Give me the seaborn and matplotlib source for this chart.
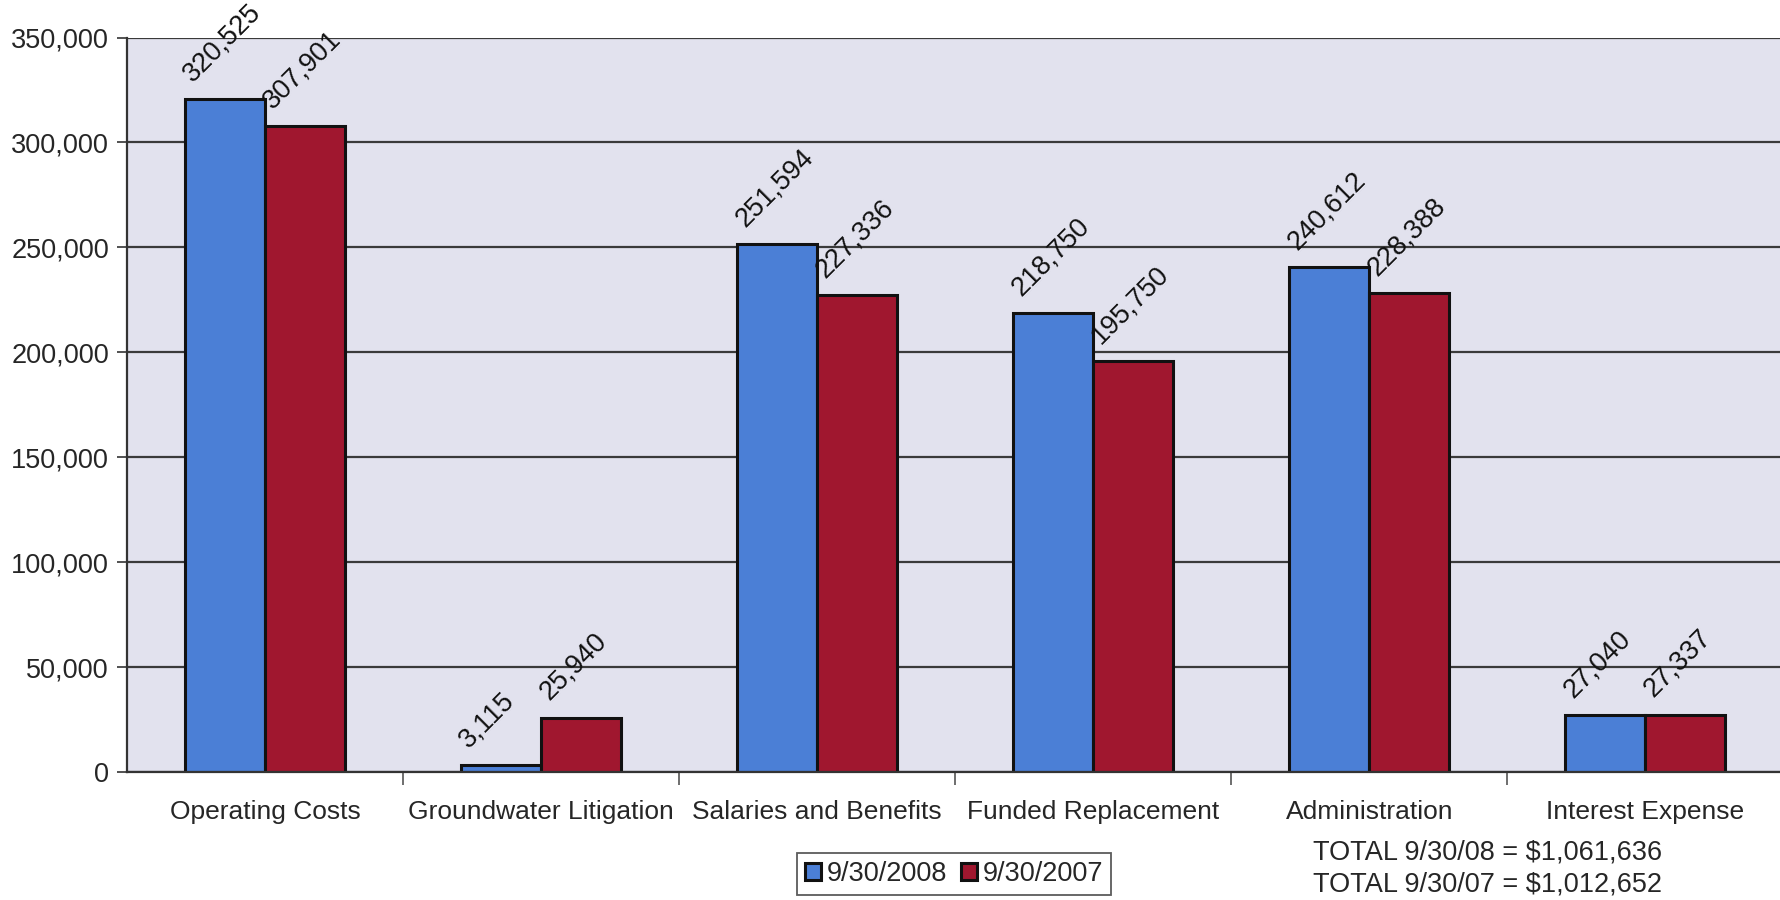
import matplotlib
matplotlib.use("Agg")
import matplotlib.pyplot as plt
import seaborn as sns
import pandas as pd
from matplotlib.ticker import FuncFormatter

# Expense categories and yearly amounts
categories = ["Operating Costs", "Groundwater Litigation", "Salaries and Benefits",
              "Funded Replacement", "Administration", "Interest Expense"]
periods = ["9/30/2008", "9/30/2007"]
values_2008 = [320525, 3115, 251594, 218750, 240612, 27040]
values_2007 = [307901, 25940, 227336, 195750, 228388, 27337]
totals = ["TOTAL 9/30/08 = $1,061,636", "TOTAL 9/30/07 = $1,012,652"]
colors = ["#4B7FD6", "#A0172F"]

df = pd.DataFrame({
    "Category": categories * 2,
    "Period": [periods[0]] * len(categories) + [periods[1]] * len(categories),
    "Amount": values_2008 + values_2007,
})

sns.set_style("white")
plt.rcParams["font.family"] = ["Liberation Sans", "DejaVu Sans"]
FS = 19.5

fig = plt.figure(figsize=(17.81, 9.0), dpi=100)
ax = fig.add_axes([0.0713, 0.1422, 0.93, 0.8161])
ax.set_facecolor("#E2E2EE")

sns.barplot(data=df, x="Category", y="Amount", hue="Period", order=categories,
            hue_order=periods, palette=colors, width=0.58, ax=ax,
            edgecolor="#111111", linewidth=2.2, saturation=1, legend=True)

ax.set_ylim(0, 350000)
ax.set_xlim(-0.5, len(categories) - 0.5)
ax.set_yticks(range(0, 350001, 50000))
ax.yaxis.set_major_formatter(FuncFormatter(lambda v, p: f"{int(v):,}"))
ax.set_xlabel("")
ax.set_ylabel("")

# Horizontal gridlines
ax.yaxis.grid(True, color="#3A3A3A", linewidth=1.6)
ax.set_axisbelow(True)

# Ticks: y ticks outward, x ticks at category boundaries
ax.tick_params(axis="y", length=7, width=1.2, color="#333333", labelsize=FS, pad=6, left=True)
ax.set_xticks(range(len(categories)))
ax.set_xticklabels(categories, fontsize=19)
ax.tick_params(axis="x", length=0, pad=20)
ax.set_xticks([i + 0.5 for i in range(len(categories) - 1)], minor=True)
ax.tick_params(axis="x", which="minor", length=9, width=1.2, color="#555555", bottom=True)

for side in ["top", "right"]:
    ax.spines[side].set_visible(False)
ax.spines["left"].set_color("#333333")
ax.spines["left"].set_linewidth(1.6)
ax.spines["bottom"].set_color("#333333")
ax.spines["bottom"].set_linewidth(1.6)

# Rotated value labels on top of each bar
for container in ax.containers:
    for bar in container:
        h = bar.get_height()
        ax.annotate(f"{int(round(h)):,}", xy=(bar.get_x(), h),
                    xytext=(5.5, 12), textcoords="offset points",
                    rotation=45, rotation_mode="anchor",
                    ha="left", va="baseline", fontsize=FS, color="#111111")

# Legend below the plot
handles, labels = ax.get_legend_handles_labels()
ax.legend_.remove()
leg = fig.legend(handles, labels, loc="center", bbox_to_anchor=(0.5357, 0.029),
                 ncol=2, fontsize=FS, frameon=True, fancybox=False,
                 handlelength=0.6, handleheight=0.6, handletextpad=0.2,
                 columnspacing=0.5, borderpad=0.3, edgecolor="#333333")
leg.get_frame().set_linewidth(1.3)

# Year totals
fig.text(0.737, 0.0533, totals[0], fontsize=FS, ha="left", va="center")
fig.text(0.737, 0.0167, totals[1], fontsize=FS, ha="left", va="center")

fig.savefig("out.png", dpi=100, facecolor="white")
